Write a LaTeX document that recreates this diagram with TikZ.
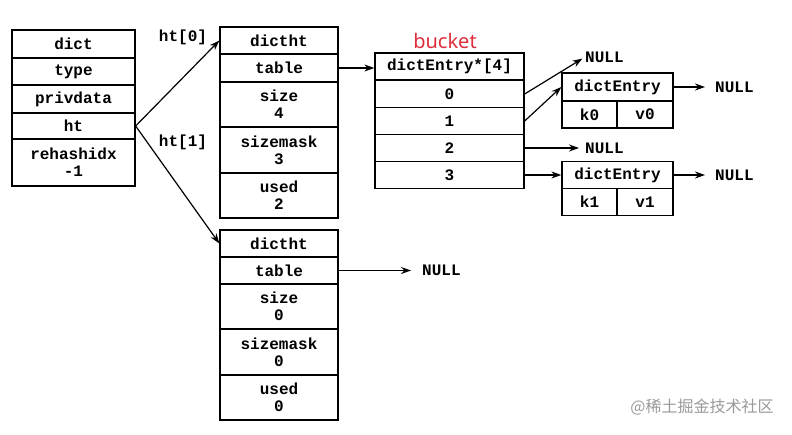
\documentclass[tikz,border=0pt]{standalone}
\usepackage{fontspec}
\setmonofont{Liberation Mono}
\newfontfamily\cjk{Noto Sans CJK SC}
\newfontfamily\notosans{Noto Sans}
\usetikzlibrary{arrows.meta}
\definecolor{bucketred}{RGB}{222,45,60}
\tikzset{
  cell/.style={draw, line width=1.3pt, inner sep=0pt, align=center,
    font=\ttfamily\bfseries\fontsize{16}{17}\selectfont},
  nul/.style={anchor=west, inner sep=0pt,
    font=\ttfamily\bfseries\fontsize{16}{17}\selectfont},
  ptr/.style={-{Stealth[length=10pt,width=7pt]}, line width=1.2pt}
}
\begin{document}
\begin{tikzpicture}[x=1pt,y=-1pt]
\useasboundingbox (0,0) rectangle (792,434);
% dict
\node[cell, minimum width=123pt, minimum height=28pt] (dict) at (73.5,44) {dict};
\node[cell, minimum width=123pt, minimum height=27pt] (type) at (73.5,71.5) {type};
\node[cell, minimum width=123pt, minimum height=28pt] (priv) at (73.5,99) {privdata};
\node[cell, minimum width=123pt, minimum height=26pt] (ht) at (73.5,126) {ht};
\node[cell, minimum width=123pt, minimum height=47pt] (rehash) at (73.5,162.5) {rehashidx\\-1};

% dictht 0
\node[cell, minimum width=118pt, minimum height=27pt] (d0h) at (279,40.5) {dictht};
\node[cell, minimum width=118pt, minimum height=28pt] (d0t) at (279,68) {table};
\node[cell, minimum width=118pt, minimum height=45pt] (d0s) at (279,104.5) {size\\4};
\node[cell, minimum width=118pt, minimum height=46pt] (d0m) at (279,150) {sizemask\\3};
\node[cell, minimum width=118pt, minimum height=45pt] (d0u) at (279,195.5) {used\\2};

% dictht 1
\node[cell, minimum width=118pt, minimum height=27pt] (d1h) at (279,243.5) {dictht};
\node[cell, minimum width=118pt, minimum height=27pt] (d1t) at (279,270.5) {table};
\node[cell, minimum width=118pt, minimum height=45pt] (d1s) at (279,306.5) {size\\0};
\node[cell, minimum width=118pt, minimum height=46pt] (d1m) at (279,352) {sizemask\\0};
\node[cell, minimum width=118pt, minimum height=45pt] (d1u) at (279,397.5) {used\\0};

% ht labels and pointers
\node[nul, anchor=center] (lab0) at (183,37) {ht[0]};
\node[nul, anchor=center] (lab1) at (183,142) {ht[1]};
\draw[ptr] (ht.east) -- (d0h.west);
\draw[ptr] (ht.east) -- (d1h.west);

% bucket array
\node[font=\notosans\fontsize{20}{22}\selectfont, text=bucketred] (bucket) at (445,41) {bucket};
\node[cell, minimum width=149pt, minimum height=27pt] (bh) at (449.5,66.5) {dictEntry*[4]};
\foreach \i in {0,...,3}
  \node[cell, minimum width=149pt, minimum height=27pt] (b\i) at (449.5,{94+27*\i}) {\i};
\draw[ptr] (d0t.east) -- (d0t.east -| bh.west);

% dictht 1 table
\node[nul] (null1) at (422,270.5) {NULL};
\draw[ptr, shorten >=11pt] (d1t.east) -- (null1.west);

% dictEntry 0
\node[cell, minimum width=111pt, minimum height=28pt] (e0h) at (617.5,87) {dictEntry};
\node[cell, minimum width=55pt, minimum height=27pt] (k0) at (589.5,114.5) {k0};
\node[cell, minimum width=56pt, minimum height=27pt] (v0) at (645,114.5) {v0};

% dictEntry 1
\node[cell, minimum width=111pt, minimum height=27pt] (e1h) at (617.5,175) {dictEntry};
\node[cell, minimum width=55pt, minimum height=27pt] (k1) at (589.5,202) {k1};
\node[cell, minimum width=56pt, minimum height=27pt] (v1) at (645,202) {v1};

% bucket pointers
\node[nul] (nullb0) at (585,57) {NULL};
\node[nul] (nullb2) at (585,148) {NULL};
\node[nul] (nulle0) at (715,87) {NULL};
\node[nul] (nulle1) at (715,175) {NULL};
\draw[ptr, shorten >=3pt] (b0.east) -- (nullb0.west);
\draw[ptr] (b1.east) -- (e0h.west);
\draw[ptr, shorten >=6pt] (b2.east) -- (nullb2.west);
\draw[ptr] (b3.east) -- (e1h.west);
\draw[ptr, shorten >=10pt] (e0h.east) -- (nulle0.west);
\draw[ptr, shorten >=10pt] (e1h.east) -- (nulle1.west);

% watermark
\node[font=\cjk\fontsize{16}{18}\selectfont, text=black!40] (mark) at (702,407) {@稀土掘金技术社区};
\end{tikzpicture}
\end{document}
